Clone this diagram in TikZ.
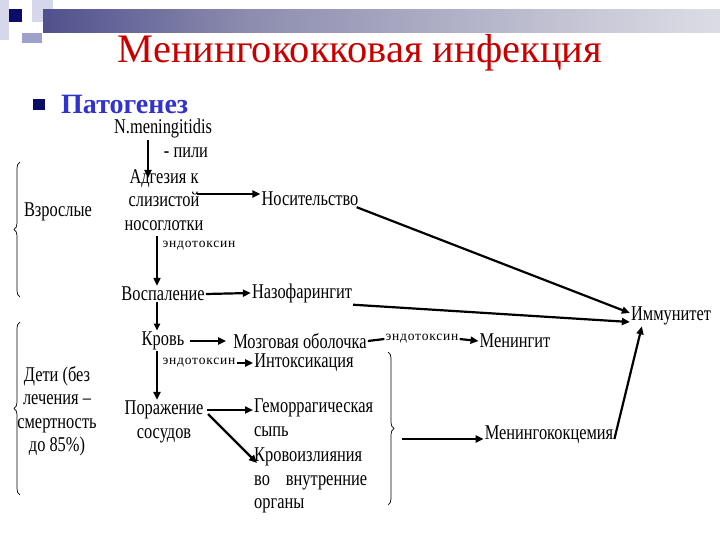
\documentclass[tikz,border=0pt]{standalone}
\usepackage{fontspec}
\setmainfont{Liberation Serif}
\newfontfamily\condfont[FakeStretch=0.78]{Liberation Serif}
\newfontfamily\smlfont[FakeStretch=1.0,LetterSpace=6]{Liberation Serif}
\usetikzlibrary{arrows.meta,decorations.pathreplacing}
\definecolor{bardark}{RGB}{28,28,112}
\definecolor{barmid}{RGB}{140,140,175}
\definecolor{barlight}{RGB}{215,215,225}
\definecolor{lav}{RGB}{215,215,235}
\definecolor{lavdark}{RGB}{160,160,205}
\definecolor{navy}{RGB}{12,12,105}
\definecolor{titlered}{RGB}{200,0,0}
\definecolor{subblue}{RGB}{50,50,205}
\pgfdeclarehorizontalshading{barshade}{100bp}{color(0bp)=(bardark); color(12bp)=(bardark); color(40bp)=(barmid); color(72bp)=(barlight); color(100bp)=(white)}
\begin{document}
\begin{tikzpicture}[x=1pt,y=-1pt,
  lbl/.style={font=\condfont\fontsize{21}{23.5}\selectfont, inner sep=1pt},
  sml/.style={font=\smlfont\fontsize{13.5}{15}\selectfont, inner sep=1pt},
  arr/.style={line width=2.2pt, -{Triangle[length=8pt,width=7pt]}},
  ln/.style={line width=2.2pt},
  brcl/.style={decorate, decoration={brace, amplitude=6pt}, line width=0.7pt},
]
\useasboundingbox (0,0) rectangle (720,540);
\fill[white] (0,0) rectangle (720,540);
% decoration
\fill[lav] (0,0) rectangle (9,40);
\fill[lav] (32,0) rectangle (53,22);
\shade[shading=barshade] (43,10) rectangle (720,33);
\fill[navy] (9,9) rectangle (22,22);
\fill[lavdark] (22,33) rectangle (42,43);
% title
\node[font=\fontsize{40.5}{44}\selectfont, text=titlered, inner sep=0pt] (title) at (360,53) {Менингококковая инфекция};
\fill[navy] (33,99) rectangle (45,110);
\node[font=\bfseries\fontsize{28}{30}\selectfont, text=subblue, anchor=west, inner sep=0pt] (sub) at (61,104) {Патогенез};
% nodes
\node[lbl] (nm) at (163,128) {N.meningitidis};
\node[lbl] (pili) at (186,153) {- пили};
\node[lbl, align=center] (adh) at (164,200) {Адгезия к\\слизистой\\носоглотки};
\node[lbl] (nos) at (310,199) {Носительство};
\node[sml] (end1) at (199,246) {эндотоксин};
\node[lbl] (vos) at (163,294) {Воспаление};
\node[lbl] (naz) at (302,293) {Назофарингит};
\node[lbl] (imm) at (671,316) {Иммунитет};
\node[lbl] (krov) at (163,341) {Кровь};
\node[lbl] (mozg) at (300,341) {Мозговая оболочка};
\node[sml] (end2) at (422,339) {эндотоксин};
\node[lbl] (men) at (515,341) {Менингит};
\node[sml] (end3) at (199,363) {эндотоксин};
\node[lbl] (int) at (304,363) {Интоксикация};
\node[lbl, align=center] (por) at (164,422) {Поражение\\сосудов};
\node[lbl, align=left, anchor=north west] (gem) at (253,398) {Геморрагическая\\сыпь};
\node[lbl, align=left, anchor=north west] (krv) at (253,447) {Кровоизлияния\\во\hspace{16pt}внутренние\\органы};
\node[lbl] (mcm) at (549,435) {Менингококцемия};
\node[lbl] (vzr) at (58,212) {Взрослые};
\node[lbl, align=center] (det) at (57,411) {Дети (без\\лечения –\\смертность\\до 85\%)};
% connectors
\coordinate (c1) at (148,140);
\coordinate (c2) at (148,178);
\draw[line width=1.8pt, -{Triangle[length=8pt,width=7pt]}] (c1) -- (c2);
\coordinate (c3) at (197,194);
\draw[arr] (c3) -- (nos.west |- c3);
\draw[arr] ([xshift=-3pt]nos.south east) -- ([yshift=3pt]imm.west);
\coordinate (c4) at (157,236);
\draw[line width=2pt, -{Triangle[length=8pt,width=7pt]}] (c4) -- (vos.north -| c4);
\draw[arr] (vos.east) -- (naz.west);
\draw[arr] ([yshift=-1pt]naz.south east) -- ([yshift=-6pt]imm.west);
\draw[line width=2pt, -{Triangle[length=7pt,width=6pt]}] (vos.south -| c4) -- (krov.north -| c4);
\draw[arr, shorten <=5pt, shorten >=6pt] (krov.east) -- (mozg.west);
\draw[ln] (mozg.east) -- (end2.west);
\draw[arr] (end2.east) -- (men.west);
\draw[line width=2pt, -{Triangle[length=8pt,width=7pt]}] (krov.south -| c4) -- (por.north -| c4);
\draw[arr] (end3.east) -- (int.west);
\coordinate (c5) at (207,410);
\draw[arr] (c5) -- (gem.west |- c5);
\coordinate (c6) at (208,414);
\coordinate (c7) at (257,463);
\draw[arr] (c6) -- (c7);
\coordinate (b1) at (388,352);
\coordinate (b2) at (388,505);
\draw[brcl] (b1) -- (b2);
\coordinate (c8) at (402,439);
\draw[arr] (c8) -- (mcm.west |- c8);
\draw[arr] ([yshift=-4pt]mcm.east) -- ([xshift=12pt]imm.south west);
\coordinate (l1) at (20,297);
\coordinate (l2) at (20,162);
\draw[brcl] (l1) -- (l2);
\coordinate (l3) at (20,495);
\coordinate (l4) at (20,322);
\draw[brcl] (l3) -- (l4);
\end{tikzpicture}
\end{document}
